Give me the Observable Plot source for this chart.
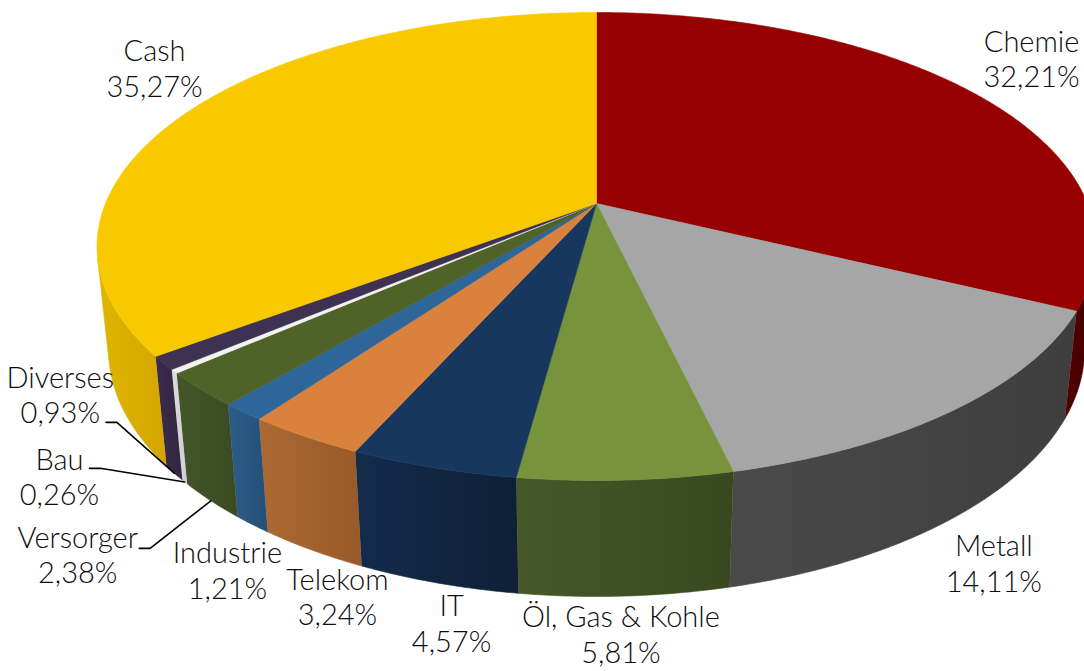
<!DOCTYPE html>
<html><head><meta charset="utf-8">
<script src="https://cdn.jsdelivr.net/npm/d3@7"></script>
<script src="https://cdn.jsdelivr.net/npm/@observablehq/plot@0.6"></script>
<style>body{margin:0;background:#fff} #chart svg{overflow:hidden;display:block}</style>
</head><body><div id="chart"></div>
<script>
// ---- data ----
const categories = ["Chemie","Metall","Öl, Gas & Kohle","IT","Telekom","Industrie","Versorger","Bau","Diverses","Cash"];
const shares = [32.21,14.11,5.81,4.57,3.24,1.21,2.38,0.26,0.93,35.27];
const shareLabels = ["32,21%","14,11%","5,81%","4,57%","3,24%","1,21%","2,38%","0,26%","0,93%","35,27%"];

// ---- styles ----
const topColors = ["#970000","#A6A6A6","#77933C","#17375E","#DA823D","#2F6699","#4F6228","#F2F2F2","#3F3151","#F9C900"];
const wallLight = ["#520000","#4A4A4A","#46582A","#142B4B","#AC6A32","#2D5C8A","#44562A","#DCDCDC","#3A2B4C","#E0B400"];
const wallDark  = ["#440000","#3E3E3E","#39481F","#0E2036","#985A2A","#264F78","#3A4A22","#CFCFCF","#33263F","#D3A600"];

// ---- layout: label placement around the pie (angle in degrees clockwise from top, radius in pie radii) ----
const labelAngle  = [54.1, 153.0, 178.5, 189.05, 196.9, 204.9, 214.25, 222.2, 232.3, 303.75];
const labelRadius = [1.24, 1.38, 1.41, 1.40, 1.376, 1.376, 1.461, 1.333, 1.195, 1.217];
const leaderCategories = ["Versorger","Bau","Diverses"];
const leaderAngle  = [211.4, 221.4, 225.9];
const leaderRadius = [1.396, 1.285, 1.181];

// ---- 3D perspective projection of the pie ----
const TILT = 27.42 * Math.PI / 180, S = Math.sin(TILT), C = Math.cos(TILT);
const DIST = 4.833, DEPTH = 0.2377;
function project(aDeg, r, h) {
  const a = aDeg * Math.PI / 180;
  const u = r * Math.sin(a), v = r * Math.cos(a);
  const yUp = v * S + h * C;
  const w = -v * C + h * S;
  const p = DIST / (DIST - w);
  return {x: u * p, y: yUp * p};
}
const visLimit = Math.acos(-1 / (DIST * C)) * 180 / Math.PI; // wall visible between visLimit and 360-visLimit

const total = d3.sum(shares);
let acc = 0;
const slices = categories.map((name, i) => {
  const a0 = acc / total * 360; acc += shares[i]; const a1 = acc / total * 360;
  return {name, i, a0, a1, mid: (a0 + a1) / 2, label: `${name}\n${shareLabels[i]}`};
});

function arc(a0, a1, h) {
  const n = Math.max(2, Math.ceil(Math.abs(a1 - a0) / 0.5));
  return d3.range(n + 1).map(k => project(a0 + (a1 - a0) * k / n, 1, h));
}

const marks = [];
// walls
slices.forEach(s => {
  const lo = Math.max(s.a0, visLimit), hi = Math.min(s.a1, 360 - visLimit);
  if (hi <= lo) return;
  const pts = [...arc(lo, hi, 0), ...arc(hi, lo, -DEPTH)];
  marks.push(Plot.line(pts, {x: "x", y: "y", fill: `url(#wall-${s.i})`, stroke: `url(#wall-${s.i})`, strokeWidth: 0.6}));
});
// tops
slices.forEach(s => {
  const pts = [project(0, 0, 0), ...arc(s.a0, s.a1, 0), project(0, 0, 0)];
  marks.push(Plot.line(pts, {x: "x", y: "y", fill: topColors[s.i], stroke: topColors[s.i], strokeWidth: 0.6}));
});
// leader lines
leaderCategories.forEach((name, j) => {
  const s = slices.find(d => d.name === name);
  const start = project(leaderAngle[j], leaderRadius[j], 0);
  const knee = {x: start.x + 0.022, y: start.y};
  const end = project(s.mid, 1, -DEPTH);
  marks.push(Plot.line([start, knee, end], {x: "x", y: "y", stroke: "#000", strokeWidth: 1.6}));
});
// labels
marks.push(Plot.text(slices, {
  x: d => project(labelAngle[d.i], labelRadius[d.i], 0).x,
  y: d => project(labelAngle[d.i], labelRadius[d.i], 0).y,
  text: "label", textAnchor: "middle", lineAnchor: "middle", lineHeight: 1.22,
  fontSize: 29, fontWeight: 300, fill: "#0d0d0d", fontFamily: "Lato"
}));

const CX = 596, CY = 203, R = 491, W = 1084, H = 671;
const chart = Plot.plot({
  width: W, height: H, margin: 0,
  x: {domain: [-CX / R, (W - CX) / R], range: [0, W], axis: null},
  y: {domain: [-(H - CY) / R, CY / R], range: [H, 0], axis: null},
  style: {fontFamily: "Lato", background: "#fff"},
  marks
});

const defs = d3.select(chart).insert("defs", ":first-child");
slices.forEach(s => {
  const g = defs.append("linearGradient").attr("id", `wall-${s.i}`).attr("x1", 0).attr("x2", 1).attr("y1", 0).attr("y2", 0);
  g.append("stop").attr("offset", "0%").attr("stop-color", wallLight[s.i]);
  g.append("stop").attr("offset", "100%").attr("stop-color", wallDark[s.i]);
});
document.getElementById("chart").appendChild(chart);
</script></body></html>
